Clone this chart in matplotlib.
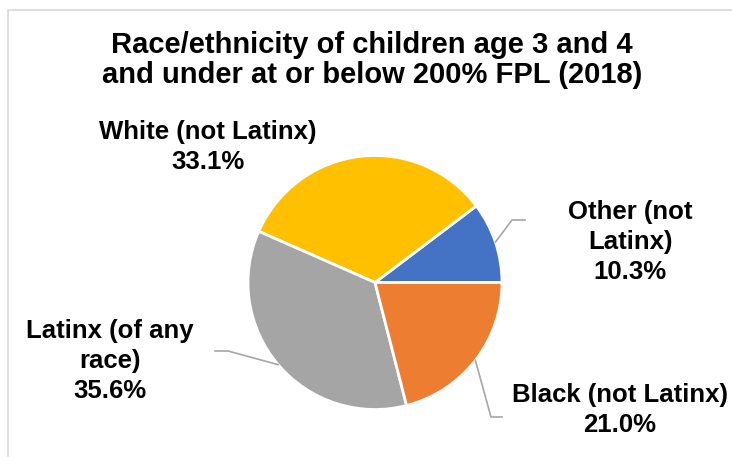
import matplotlib.pyplot as plt
import numpy as np
from matplotlib.patches import Rectangle

plt.rcParams['font.family'] = ['Liberation Sans', 'DejaVu Sans']

# Data
labels = ['Other (not\nLatinx)', 'White (not Latinx)', 'Latinx (of any\nrace)', 'Black (not Latinx)']
shares = [10.3, 33.1, 35.6, 21.0]
colors = ['#4472C4', '#FFC000', '#A5A5A5', '#ED7D31']

W, H = 732, 457
cx, cy, R = 375, 282.5, 127  # pie centre / radius in pixels
half = 180

fig = plt.figure(figsize=(W / 100, H / 100), dpi=100)

# light chart frame (only left/top visible in the crop)
fig.patches.append(Rectangle((8 / W, -0.1), 1.2, (H - 10) / H + 0.1, transform=fig.transFigure,
                             fill=False, edgecolor='#D9D9D9', linewidth=1.2))

ax = fig.add_axes([(cx - half) / W, (H - cy - half) / H, 2 * half / W, 2 * half / H])
wedges, _ = ax.pie(shares, colors=colors, startangle=0, counterclock=True, radius=1,
                   wedgeprops=dict(edgecolor='white', linewidth=2))
ax.set_xlim(-half / R, half / R)
ax.set_ylim(-half / R, half / R)
ax.set_aspect('equal')
ax.axis('off')


def px(x, y):
    return ((x - cx) / R, (cy - y) / R)


fig.text(372 / W, 1 - 60 / H,
         'Race/ethnicity of children age 3 and 4\nand under at or below 200% FPL (2018)',
         ha='center', va='center', fontsize=21, fontweight='bold', linespacing=1.12)

# label centres (pixels) and leader knee/end points
label_pos = [(630, 242), (208, 147), (110, 361), (620, 410)]
leaders = [[(512, 220), (525, 220)], None, [(228, 351), (215, 351)], [(491, 417), (502, 417)]]

for w, lab, v, pos, ld in zip(wedges, labels, shares, label_pos, leaders):
    ax.text(*px(*pos), f'{lab}\n{v:.1f}%', ha='center', va='center', fontsize=18.5,
            fontweight='bold', linespacing=1.3)
    if ld:
        ang = np.deg2rad((w.theta1 + w.theta2) / 2)
        pts = [(np.cos(ang), np.sin(ang))] + [px(*p) for p in ld]
        xs, ys = zip(*pts)
        ax.plot(xs, ys, color='#A6A6A6', linewidth=1.2, clip_on=False)

fig.savefig('out.png', dpi=100)
